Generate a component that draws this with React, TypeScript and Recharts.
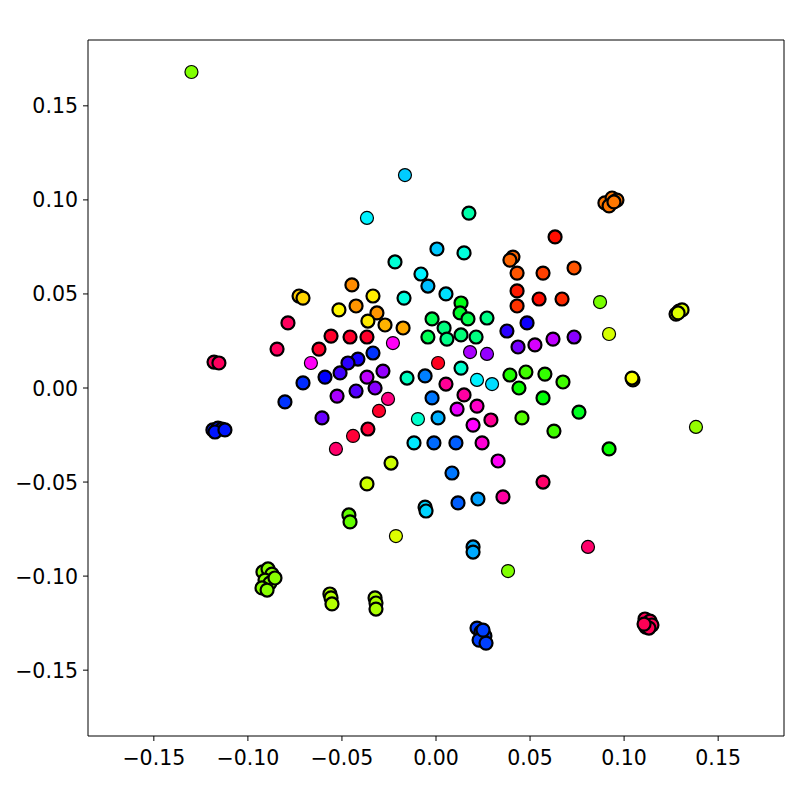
import React from "react";
import { ScatterChart, Scatter, XAxis, YAxis, ReferenceLine } from "recharts";

// point coordinates (x, y in data units)
const xValues = [
  -0.130, -0.0165, -0.0367, 0.0175, 0.0633, 0.0898, 0.0936, 0.0962, 0.0920, 0.0946,
  0.0005, 0.0149, -0.0218, 0.0409, 0.0393, 0.0734, 0.0431, 0.0569, -0.0080, -0.0043,
  -0.0447, -0.0728, -0.0707, -0.0335, -0.0170, 0.0053, 0.0431, 0.0548, 0.0670, 0.0431,
  -0.0425, -0.0516, 0.0133, 0.0128, -0.0314, 0.0170, 0.0271, -0.0021, -0.0362, -0.0271,
  -0.0175, 0.0043, -0.0787, 0.0484, 0.0377, -0.0043, 0.0058, 0.0133, 0.0213, -0.0558,
  -0.0457, -0.0367, 0.0622, 0.0734, 0.0436, 0.0526, -0.0229, -0.0845, -0.0622, -0.0335,
  -0.0415, -0.0468, -0.0665, 0.0181, 0.0271, 0.0011, 0.0133, -0.0282, -0.0510, -0.0590,
  -0.0367, -0.0154, -0.0058, 0.0218, 0.0298, 0.0393, 0.0478, 0.0579, 0.0675, -0.0707,
  0.0053, 0.0441, -0.0324, -0.0425, -0.0526, 0.0149, -0.0021, 0.0569, -0.0803, -0.0255,
  0.0112, 0.0218, 0.0760, -0.0303, -0.0606, -0.0096, 0.0011, 0.0457, 0.0197, 0.0292,
  -0.0362, -0.0441, 0.0627, -0.1180, -0.1154, -0.1186, -0.1159, -0.1138, -0.1175, -0.1122,
  -0.0532, -0.0117, -0.0011, 0.0106, 0.0245, 0.0872, 0.1276, 0.1292, 0.1308, 0.1287,
  0.0920, 0.1047, 0.1042, 0.1382, 0.0920, -0.0239, -0.0367, -0.0463, -0.0457, -0.0213,
  -0.0920, -0.0893, -0.0872, -0.0909, -0.0883, -0.0925, -0.0898, -0.0856, -0.0564, -0.0558,
  -0.0553, -0.0324, -0.0319, -0.0319, -0.0058, -0.0053, 0.0085, 0.0117, 0.0223, 0.0356,
  0.0330, 0.0569, 0.0197, 0.0197, 0.0383, 0.0218, 0.0239, 0.0260, 0.0229, 0.0266,
  0.0250, 0.0808, 0.1111, 0.1138, 0.1148, 0.1116, 0.1132, 0.1106,
];

const yValues = [
  0.168, 0.1132, 0.0904, 0.0930, 0.0803, 0.0984, 0.1010, 0.0999, 0.0968, 0.0989,
  0.0739, 0.0718, 0.0670, 0.0696, 0.0680, 0.0638, 0.0611, 0.0611, 0.0606, 0.0542,
  0.0548, 0.0489, 0.0478, 0.0489, 0.0478, 0.0500, 0.0516, 0.0473, 0.0473, 0.0436,
  0.0436, 0.0415, 0.0452, 0.0399, 0.0399, 0.0367, 0.0372, 0.0367, 0.0356, 0.0335,
  0.0319, 0.0319, 0.0346, 0.0346, 0.0303, 0.0271, 0.0260, 0.0282, 0.0271, 0.0276,
  0.0271, 0.0271, 0.0260, 0.0271, 0.0218, 0.0229, 0.0239, 0.0207, 0.0207, 0.0186,
  0.0154, 0.0133, 0.0133, 0.0191, 0.0181, 0.0133, 0.0106, 0.0090, 0.0080, 0.0058,
  0.0058, 0.0053, 0.0064, 0.0043, 0.0021, 0.0069, 0.0085, 0.0074, 0.0032, 0.0027,
  0.0021, 0.0, 0.0, -0.0016, -0.0043, -0.0037, -0.0053, -0.0053, -0.0074, -0.0058,
  -0.0112, -0.0096, -0.0128, -0.0122, -0.0159, -0.0165, -0.0159, -0.0159, -0.0197, -0.0170,
  -0.0218, -0.0255, -0.0229, 0.0138, 0.0133, -0.0223, -0.0213, -0.0218, -0.0234, -0.0223,
  -0.0324, -0.0292, -0.0292, -0.0292, -0.0292, 0.0457, 0.0393, 0.0409, 0.0415, 0.0399,
  0.0287, 0.0043, 0.0053, -0.0207, -0.0324, -0.0399, -0.0510, -0.0675, -0.0712, -0.0787,
  -0.0978, -0.0962, -0.0989, -0.1021, -0.1037, -0.1063, -0.1074, -0.1010, -0.1095, -0.1116,
  -0.1148, -0.1116, -0.1143, -0.1175, -0.0633, -0.0654, -0.0452, -0.0611, -0.0590, -0.0579,
  -0.0388, -0.0500, -0.0845, -0.0872, -0.0973, -0.1276, -0.1297, -0.1318, -0.1340, -0.1356,
  -0.1287, -0.0845, -0.1228, -0.1239, -0.1260, -0.1271, -0.1276, -0.1255,
];

// colour value of each point (hue, degrees on the hsv wheel)
const hueValues = [
  90, 192, 183, 160, 3, 28, 28, 28, 28, 28,
  193, 172, 170, 24, 24, 20, 20, 15, 183, 195,
  33, 48, 50, 56, 172, 187, 6, 3, 10, 12,
  35, 58, 125, 130, 35, 138, 152, 140, 55, 42,
  40, 150, 338, 243, 250, 140, 152, 148, 150, 350,
  350, 350, 285, 272, 268, 290, 302, 338, 350, 228,
  245, 250, 302, 280, 275, 353, 168, 275, 255, 240,
  285, 165, 210, 183, 188, 113, 105, 108, 105, 230,
  325, 118, 272, 260, 280, 322, 212, 122, 228, 330,
  295, 313, 128, 350, 265, 168, 198, 100, 300, 325,
  347, 347, 105, 338, 338, 235, 235, 235, 235, 235,
  335, 185, 215, 218, 310, 92, 68, 68, 68, 68,
  70, 62, 62, 85, 118, 72, 72, 97, 97, 68,
  88, 88, 88, 88, 88, 88, 88, 88, 78, 78,
  78, 80, 80, 80, 190, 190, 212, 218, 202, 322,
  302, 335, 200, 200, 90, 225, 225, 225, 225, 225,
  225, 335, 340, 340, 340, 340, 340, 340,
];

// how many points sit on top of each other at that spot
const overlapCounts = [
  1, 1, 1, 2, 2, 2, 2, 2, 2, 2,
  2, 2, 2, 2, 2, 2, 2, 2, 2, 2,
  2, 2, 2, 2, 2, 2, 2, 2, 2, 2,
  2, 2, 2, 2, 2, 2, 2, 2, 2, 2,
  2, 2, 2, 2, 2, 2, 2, 2, 2, 2,
  2, 2, 2, 2, 2, 2, 1, 2, 2, 2,
  2, 2, 1, 1, 1, 1, 2, 2, 2, 2,
  2, 2, 2, 1, 1, 2, 2, 2, 2, 2,
  2, 2, 2, 2, 2, 2, 2, 2, 2, 1,
  2, 2, 2, 1, 2, 1, 2, 2, 2, 2,
  2, 1, 2, 2, 2, 2, 2, 2, 2, 2,
  1, 2, 2, 2, 2, 1, 2, 2, 2, 2,
  1, 2, 2, 1, 2, 2, 2, 2, 2, 1,
  2, 2, 2, 2, 2, 2, 2, 2, 2, 2,
  2, 2, 2, 2, 2, 2, 2, 2, 2, 2,
  2, 2, 2, 2, 1, 2, 2, 2, 2, 2,
  2, 1, 2, 2, 2, 2, 2, 2,
];

const TICKS = [-0.15, -0.1, -0.05, 0, 0.05, 0.1, 0.15];
const DOMAIN: [number, number] = [-0.185, 0.185];

const points = xValues.map((x, i) => ({
  x,
  y: yValues[i],
  hue: hueValues[i],
  count: overlapCounts[i],
}));

const fmt = (v: number) => (v < 0 ? "\u2212" : "") + Math.abs(v).toFixed(2);

function XTick(props: any) {
  const { x, y, payload } = props;
  return (
    <text x={x} y={y + 19} textAnchor="middle" fill="#000" fontSize={20.5} fontFamily="DejaVu Sans">
      {fmt(payload.value)}
    </text>
  );
}

function YTick(props: any) {
  const { x, y, payload } = props;
  return (
    <text x={x} y={y + 7.5} textAnchor="end" fill="#000" fontSize={20.5} fontFamily="DejaVu Sans">
      {fmt(payload.value)}
    </text>
  );
}

function Dot(props: any) {
  const { cx, cy, payload } = props;
  if (cx == null || cy == null) return null;
  return (
    <circle
      cx={cx}
      cy={cy}
      r={6.5}
      fill={`hsl(${payload.hue}, 100%, 50%)`}
      stroke="#000"
      strokeWidth={payload.count > 1 ? 2.2 : 1.2}
    />
  );
}

export default function App() {
  return (
    <div style={{ position: "absolute", left: 0, top: 0, background: "#fff" }}>
      <ScatterChart
        width={800}
        height={800}
        margin={{ top: 40, right: 16, bottom: 0, left: 0 }}
      >
        <XAxis
          type="number"
          dataKey="x"
          domain={DOMAIN}
          ticks={TICKS}
          allowDataOverflow
          height={64}
          tick={<XTick />}
          tickSize={5}
          tickMargin={5}
          stroke="#000"
        />
        <YAxis
          type="number"
          dataKey="y"
          domain={DOMAIN}
          ticks={TICKS}
          allowDataOverflow
          width={88}
          tick={<YTick />}
          tickSize={5}
          tickMargin={5}
          stroke="#000"
        />
        <ReferenceLine x={DOMAIN[1]} stroke="#000" strokeWidth={1} />
        <ReferenceLine y={DOMAIN[1]} stroke="#000" strokeWidth={1} />
        <Scatter data={points} shape={<Dot />} isAnimationActive={false} />
      </ScatterChart>
    </div>
  );
}
